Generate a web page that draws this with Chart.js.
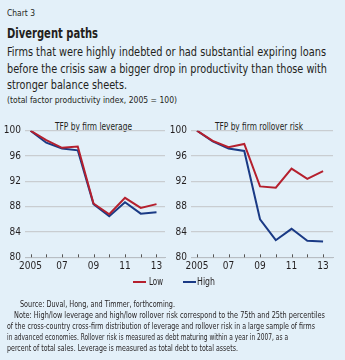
<!DOCTYPE html>
<html>
<head>
<meta charset="utf-8">
<script src="https://cdn.jsdelivr.net/npm/chart.js@4.4.1/dist/chart.umd.min.js"></script>
<style>
  html, body { margin:0; padding:0; }
  body { width:345px; height:360px; background:#E3F0F9; position:relative; overflow:hidden;
         font-family:"Liberation Sans Narrow","DejaVu Sans Condensed","Liberation Sans",sans-serif; color:#231F20; }
  .t { position:absolute; white-space:nowrap; transform-origin:0 50%; line-height:1; }
  canvas { position:absolute; }
</style>
</head>
<body>
<div class="t" data-w="28" style="left:7px;top:8px;font-size:9.5px;">Chart 3</div>
<div class="t" data-w="91" style="left:7px;top:26px;font-size:14.5px;font-weight:bold;">Divergent paths</div>
<div class="t" data-w="319" style="left:7px;top:45px;font-size:13px;">Firms that were highly indebted or had substantial expiring loans</div>
<div class="t" data-w="320" style="left:7px;top:62px;font-size:13px;">before the crisis saw a bigger drop in productivity than those with</div>
<div class="t" data-w="120" style="left:7px;top:78px;font-size:13px;">stronger balance sheets.</div>
<div class="t" data-w="170" style="left:7px;top:95px;font-size:9.5px;">(total factor productivity index, 2005 = 100)</div>

<div class="t" data-w="77" style="left:55px;top:121px;font-size:10.5px;">TFP by firm leverage</div>
<div class="t" data-w="88" style="left:215px;top:121px;font-size:10.5px;">TFP by firm rollover risk</div>

<canvas id="c1" width="170" height="160" style="left:0;top:118px;width:170px;height:160px;"></canvas>
<canvas id="c2" width="179" height="160" style="left:166px;top:118px;width:179px;height:160px;"></canvas>

<div style="position:absolute;left:133px;top:281px;width:13px;height:2px;background:#B5202E;"></div>
<div class="t" data-w="14" style="left:149px;top:276px;font-size:10.5px;">Low</div>
<div style="position:absolute;left:183px;top:281px;width:13px;height:2px;background:#1A3A85;"></div>
<div class="t" data-w="18" style="left:197px;top:276px;font-size:10.5px;">High</div>

<div class="t" data-w="155" style="left:20px;top:299px;font-size:9.5px;">Source: Duval, Hong, and Timmer, forthcoming.</div>
<div class="t" data-w="311" style="left:14px;top:310px;font-size:9.5px;">Note: High/low leverage and high/low rollover risk correspond to the 75th and 25th percentiles</div>
<div class="t" data-w="308" style="left:7px;top:321px;font-size:9.5px;">of the cross-country cross-firm distribution of leverage and rollover risk in a large sample of firms</div>
<div class="t" data-w="281" style="left:7px;top:332px;font-size:9.5px;">in advanced economies. Rollover risk is measured as debt maturing within a year in 2007, as a</div>
<div class="t" data-w="231" style="left:7px;top:343px;font-size:9.5px;">percent of total sales. Leverage is measured as total debt to total assets.</div>

<script>
const years = [2005, 2006, 2007, 2008, 2009, 2010, 2011, 2012, 2013];
const yTicks = [80, 84, 88, 92, 96, 100];
const seriesNames = ["Low", "High"];
const leverageLow  = [100, 98.5, 97.3, 97.5, 88.5, 86.8, 89.4, 87.8, 88.4];
const leverageHigh = [100, 98.1, 97.2, 96.9, 88.4, 86.5, 88.7, 86.9, 87.1];
const rolloverLow  = [100, 98.4, 97.4, 97.9, 91.2, 91.0, 94.0, 92.4, 93.6];
const rolloverHigh = [100, 98.3, 97.2, 96.8, 86.0, 82.7, 84.5, 82.6, 82.5];

const RED = "#B5202E", BLUE = "#1A3A85";
const FONT = "'Liberation Sans Narrow','DejaVu Sans Condensed','Liberation Sans',sans-serif";

// squeeze text to the reference widths (condensed typeface look)
document.querySelectorAll(".t[data-w]").forEach(el => {
  const w = el.getBoundingClientRect().width;
  const target = parseFloat(el.dataset.w);
  if (w > 0) el.style.transform = "scaleX(" + (target / w) + ")";
});

const tickMarks = {
  id: "tickMarks",
  afterDatasetsDraw(chart) {
    const x = chart.scales.x, ctx = chart.ctx, b = chart.chartArea.bottom;
    ctx.save();
    ctx.strokeStyle = "#555"; ctx.lineWidth = 1;
    years.forEach(v => {
      const px = Math.round(x.getPixelForValue(v)) + 0.5;
      ctx.beginPath(); ctx.moveTo(px, b); ctx.lineTo(px, b - 3); ctx.stroke();
    });
    ctx.restore();
  }
};

function makeChart(id, low, high, xmin, xmax, padRight) {
  new Chart(document.getElementById(id), {
    type: "line",
    data: {
      datasets: [
        { label: seriesNames[0], data: years.map((y, i) => ({ x: y, y: low[i] })), borderColor: RED, borderWidth: 2, pointRadius: 0, tension: 0, order: 0 },
        { label: seriesNames[1], data: years.map((y, i) => ({ x: y, y: high[i] })), borderColor: BLUE, borderWidth: 2, pointRadius: 0, tension: 0, order: 1 }
      ]
    },
    options: {
      responsive: false, animation: false, devicePixelRatio: 1,
      layout: { padding: { top: 12.7, right: padRight, left: 0, bottom: 0 } },
      plugins: { legend: { display: false }, tooltip: { enabled: false } },
      scales: {
        x: {
          type: "linear", min: xmin, max: xmax,
          afterBuildTicks: s => { s.ticks = years.map(v => ({ value: v })); },
          afterFit: s => { s.height = 20.7; },
          grid: { display: false, drawTicks: false },
          border: { display: true, color: "#B8BEC4", width: 1 },
          ticks: {
            autoSkip: false, maxRotation: 0, padding: 3, color: "#231F20",
            font: { family: FONT, size: 10 },
            callback: v => v === 2005 ? "2005" : (v % 2 === 1 ? String(v).slice(2) : "")
          }
        },
        y: {
          min: 80, max: 100,
          afterBuildTicks: s => { s.ticks = yTicks.map(v => ({ value: v })); },
          afterFit: s => { s.width = 25; },
          grid: { color: "#C9CDD1", lineWidth: 1.3, drawTicks: false },
          border: { display: false },
          ticks: { padding: 4, color: "#231F20", font: { family: FONT, size: 10 } }
        }
      }
    },
    plugins: [tickMarks]
  });
}

makeChart("c1", leverageLow, leverageHigh, 2004.65, 2013.54, 5);
makeChart("c2", rolloverLow, rolloverHigh, 2004.62, 2013.63, 12);
</script>
</body>
</html>
